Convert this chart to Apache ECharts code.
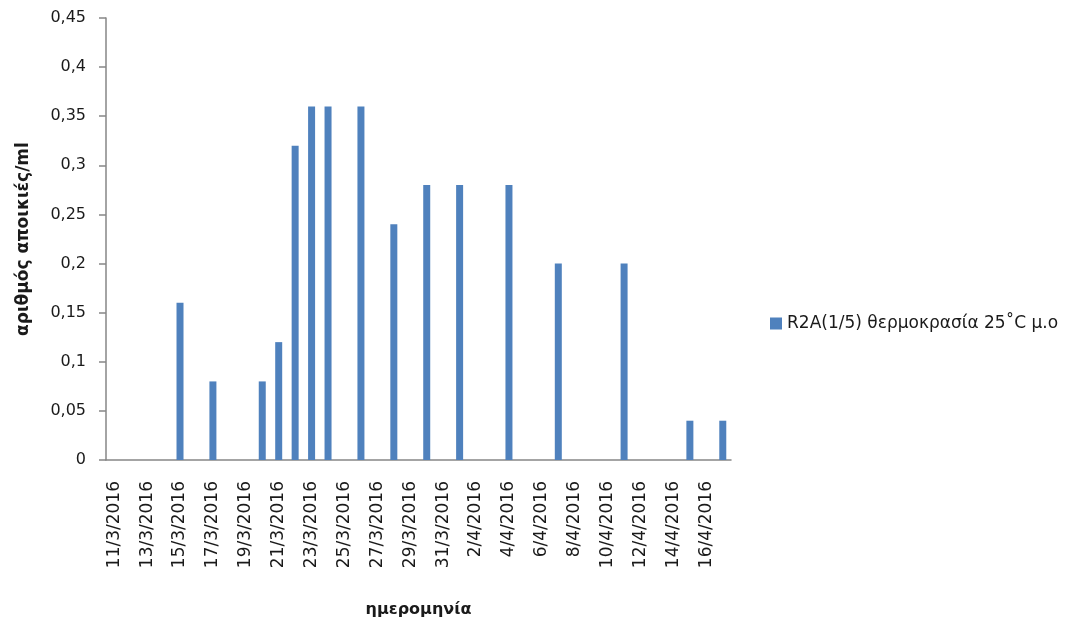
<!DOCTYPE html>
<html>
<head>
<meta charset="utf-8">
<script src="https://cdn.jsdelivr.net/npm/echarts@6/dist/echarts.min.js"></script>
<style>
  html, body { margin: 0; padding: 0; background: #ffffff; }
  #chart { width: 1072px; height: 623px; }
</style>
</head>
<body>
<div id="chart"></div>
<script>
// Daily sampling dates, 11/3/2016 – 17/4/2016
const dates = [
  '11/3/2016', '12/3/2016', '13/3/2016', '14/3/2016', '15/3/2016', '16/3/2016',
  '17/3/2016', '18/3/2016', '19/3/2016', '20/3/2016', '21/3/2016', '22/3/2016',
  '23/3/2016', '24/3/2016', '25/3/2016', '26/3/2016', '27/3/2016', '28/3/2016',
  '29/3/2016', '30/3/2016', '31/3/2016', '1/4/2016', '2/4/2016', '3/4/2016',
  '4/4/2016', '5/4/2016', '6/4/2016', '7/4/2016', '8/4/2016', '9/4/2016',
  '10/4/2016', '11/4/2016', '12/4/2016', '13/4/2016', '14/4/2016', '15/4/2016',
  '16/4/2016', '17/4/2016'
];

// Colony counts per ml (mean), null where no measurement
const colonies = [
  null, null, null, null, 0.16, null,
  0.08, null, null, 0.08, 0.12, 0.32,
  0.36, 0.36, null, 0.36, null, 0.24,
  null, 0.28, null, 0.28, null, null,
  0.28, null, null, 0.20, null, null,
  null, 0.20, null, null, null, 0.04,
  null, 0.04
];

const seriesName = 'R2A(1/5) θερμοκρασία 25˚C μ.ο';
const yAxisTitle = 'αριθμός αποικιές/ml';
const xAxisTitle = 'ημερομηνία';

const axisGray = '#868686';
const textColor = '#1a1a1a';
const barBlue = '#4f81bd';
const font = 'DejaVu Sans';

const chart = echarts.init(document.getElementById('chart'), null, { renderer: 'canvas' });

chart.setOption({
  animation: false,
  backgroundColor: '#ffffff',
  textStyle: { fontFamily: font },
  grid: { left: 106, top: 18, right: 341, bottom: 163, containLabel: false },
  legend: {
    left: 765,
    top: 310,
    itemWidth: 12,
    itemHeight: 12,
    itemGap: 8,
    icon: 'rect',
    textStyle: { fontFamily: font, fontSize: 17, color: textColor },
    data: [seriesName]
  },
  xAxis: {
    type: 'category',
    data: dates,
    name: xAxisTitle,
    nameLocation: 'middle',
    nameGap: 142,
    nameTextStyle: { fontFamily: font, fontSize: 16, fontWeight: 'bold', color: textColor },
    axisLine: { lineStyle: { color: axisGray, width: 1.5 } },
    axisTick: { show: false },
    axisLabel: {
      interval: 1,
      rotate: 90,
      margin: 21,
      fontFamily: font,
      fontSize: 17,
      color: textColor
    },
    splitLine: { show: false }
  },
  yAxis: {
    type: 'value',
    min: 0,
    max: 0.45,
    interval: 0.05,
    name: yAxisTitle,
    nameLocation: 'middle',
    nameRotate: 90,
    nameGap: 74,
    nameTextStyle: { fontFamily: font, fontSize: 17, fontWeight: 'bold', color: textColor },
    axisLine: { show: true, lineStyle: { color: axisGray, width: 1.5 } },
    axisTick: { show: true, inside: false, length: 7, lineStyle: { color: axisGray, width: 1.5 } },
    axisLabel: {
      margin: 20,
      fontFamily: font,
      fontSize: 16,
      color: textColor,
      formatter: v => String(+v.toFixed(2)).replace('.', ',')
    },
    splitLine: { show: false }
  },
  series: [{
    name: seriesName,
    type: 'bar',
    data: colonies,
    barWidth: 7,
    itemStyle: { color: barBlue }
  }]
});
</script>
</body>
</html>
